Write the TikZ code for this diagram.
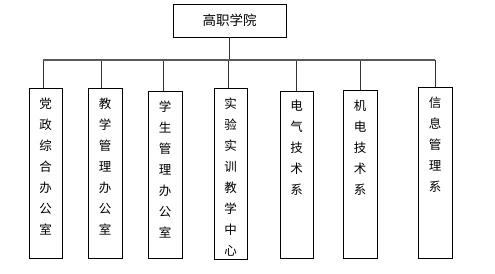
\documentclass[tikz,border=0pt]{standalone}
\usepackage{fontspec}
\newfontfamily\cjk{Noto Sans CJK SC}
\tikzset{
  unitbox/.style={draw=black, line width=0.8pt, inner sep=0pt, fill=white},
  vbox/.style={unitbox},
  conn/.style={draw=black!80, line width=0.8pt},
  barline/.style={draw=black!65, line width=1.3pt},
}
\newcommand{\vcol}[3]{\parbox[c][#1pt][t]{#2pt}{\centering\fontsize{12.5}{21}\selectfont\cjk\vspace{9.5pt}#3}}
\begin{document}
\begin{tikzpicture}[x=1pt,y=-1pt]
\useasboundingbox (0,0) rectangle (495,273);
\node[unitbox, minimum width=113pt, minimum height=33pt] (top) at (229.5,20.5) {\fontsize{13.5}{16}\selectfont\cjk 高职学院};
\node[vbox] (n1) at (45.5,173) {\vcol{170}{33}{党\\政\\综\\合\\办\\公\\室}};
\node[vbox] (n2) at (105,173) {\vcol{170}{34}{教\\学\\管\\理\\办\\公\\室}};
\node[vbox] (n3) at (165,174.5) {\vcol{167}{34}{学\\生\\管\\理\\办\\公\\室}};
\node[vbox] (n4) at (230.5,173.5) {\vcol{171}{33}{实\\验\\实\\训\\教\\学\\中\\心}};
\node[vbox] (n5) at (296.5,174.5) {\vcol{167}{33}{电\\气\\技\\术\\系}};
\node[vbox] (n6) at (360,174) {\vcol{168}{34}{机\\电\\技\\术\\系}};
\node[vbox] (n7) at (435,172.5) {\vcol{171}{34}{信\\息\\管\\理\\系}};
\coordinate (bl) at (43,60);
\coordinate (br) at (435,60);
\coordinate (bm) at (229,60);
\coordinate (d1) at (43,60);
\coordinate (d2) at (101,60);
\coordinate (d3) at (163,60);
\coordinate (d4) at (228,60);
\coordinate (d5) at (296,60);
\coordinate (d6) at (360,60);
\coordinate (d7) at (435,60);
\draw[conn] (top.south -| bm) -- (bm);
\foreach \i in {1,...,7} {\draw[conn] (d\i) -- (d\i |- n\i.north);}
\draw[barline] (bl) -- (br);
\end{tikzpicture}
\end{document}
